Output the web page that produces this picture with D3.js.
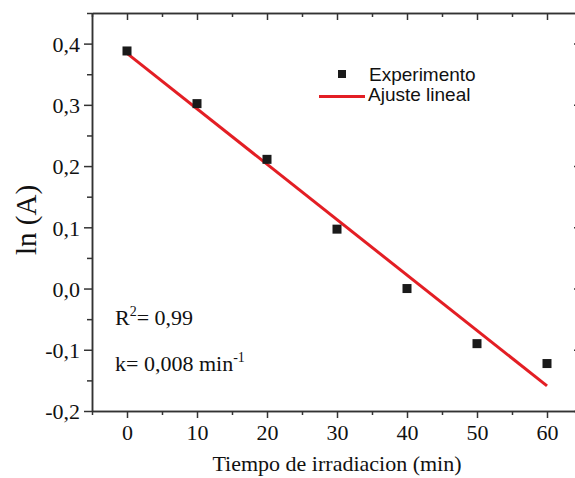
<!DOCTYPE html>
<html>
<head>
<meta charset="utf-8">
<script src="https://cdn.jsdelivr.net/npm/d3@7"></script>
<style>
  body { margin: 0; background: #fff; }
  svg { display: block; }
</style>
</head>
<body>
<div id="chart"></div>
<script>
// 측정 데이터 (min, ln A)
const times = [0, 10, 20, 30, 40, 50, 60];
const lnA = [0.388, 0.302, 0.211, 0.097, 0.0, -0.090, -0.1225];
// 선형 적합 양 끝점
const fitX = [0, 60];
const fitY = [0.384, -0.159];
const xTicks = [0, 10, 20, 30, 40, 50, 60];
const yTicks = [-0.2, -0.1, 0.0, 0.1, 0.2, 0.3, 0.4];

const W = 575, H = 478;
const margin = { top: 13, right: -7, bottom: 67, left: 92 };
const serif = '"Liberation Serif", "Times New Roman", Times, serif';
const sans = '"Liberation Sans", Arial, sans-serif';
const ink = '#111';

let svg = d3.select('#chart').append('svg')
  .attr('width', W)
  .attr('height', H);

let x = d3.scaleLinear().domain([-5, 65]).range([margin.left, W - margin.right]);
let y = d3.scaleLinear().domain([-0.2, 0.45]).range([H - margin.bottom, margin.top]);

const axisColor = '#333';
const fmt = d => d3.format('.1f')(d).replace('.', ',').replace('−', '-');
const xMinor = d3.range(-5, 66, 5).filter(v => v % 10 !== 0);
const yMinor = d3.range(-0.15, 0.46, 0.1).map(v => +v.toFixed(2));

/* 축 그리기 헬퍼 */
function drawAxis(axis, tx, ty) {
  let g = svg.append('g').attr('transform', 'translate(' + tx + ',' + ty + ')').call(axis);
  g.attr('font-family', serif).attr('font-size', 22);
  g.select('.domain').attr('stroke', axisColor).attr('stroke-width', 1.5);
  g.selectAll('.tick line').attr('stroke', axisColor).attr('stroke-width', 1.5);
  g.selectAll('.tick text').attr('fill', ink).attr('font-family', serif).attr('font-size', 22);
  return g;
}

// 아래 x축
drawAxis(d3.axisBottom(x).tickValues(xTicks).tickSize(7).tickPadding(6).tickSizeOuter(0).tickFormat(d3.format('d')), 0, y.range()[0]);
drawAxis(d3.axisBottom(x).tickValues(xMinor).tickSize(4).tickFormat('').tickSizeOuter(0), 0, y.range()[0]);
// 위 x축 (안쪽 눈금)
drawAxis(d3.axisBottom(x).tickValues(xTicks).tickSize(7).tickFormat('').tickSizeOuter(0), 0, y.range()[1]);
drawAxis(d3.axisBottom(x).tickValues(xMinor).tickSize(4).tickFormat('').tickSizeOuter(0), 0, y.range()[1]);

// 왼쪽 y축
let gy = drawAxis(d3.axisLeft(y).tickValues(yTicks).tickSize(8).tickPadding(4).tickSizeOuter(0).tickFormat(fmt), x.range()[0], 0);
drawAxis(d3.axisLeft(y).tickValues(yMinor).tickSize(5).tickFormat('').tickSizeOuter(0), x.range()[0], 0);
// 오른쪽 y축 (안쪽 눈금)
drawAxis(d3.axisRight(y).tickValues(yTicks).tickSize(-8).tickFormat('').tickSizeOuter(0), x.range()[1], 0);
drawAxis(d3.axisRight(y).tickValues(yMinor).tickSize(-5).tickFormat('').tickSizeOuter(0), x.range()[1], 0);

gy.selectAll('.tick text').attr('dy', '0.35em');

// 적합 직선
let line = d3.line().x(d => x(d[0])).y(d => y(d[1]));
svg.append('path')
  .datum(d3.zip(fitX, fitY))
  .attr('d', line)
  .attr('fill', 'none')
  .attr('stroke', '#e31e24')
  .attr('stroke-width', 3);

// 실험점
const sq = 9;
svg.selectAll('rect.pt')
  .data(d3.zip(times, lnA))
  .enter().append('rect')
  .attr('class', 'pt')
  .attr('x', d => x(d[0]) - sq / 2)
  .attr('y', d => y(d[1]) - sq / 2)
  .attr('width', sq)
  .attr('height', sq)
  .attr('fill', '#1a1a1a');

// 범례
svg.append('rect').attr('x', 338).attr('y', 70).attr('width', 8).attr('height', 8).attr('fill', '#1a1a1a');
svg.append('text').attr('x', 369).attr('y', 81).text('Experimento')
  .attr('font-family', sans).attr('font-size', 19).attr('fill', ink);
svg.append('line').attr('x1', 319).attr('x2', 365).attr('y1', 96.5).attr('y2', 96.5)
  .attr('stroke', '#e31e24').attr('stroke-width', 3);
svg.append('text').attr('x', 368).attr('y', 101).text('Ajuste lineal')
  .attr('font-family', sans).attr('font-size', 19).attr('fill', ink);

// 주석
let t1 = svg.append('text').attr('x', 115).attr('y', 325)
  .attr('font-family', serif).attr('font-size', 22).attr('fill', ink);
t1.append('tspan').text('R');
t1.append('tspan').text('2').attr('font-size', 14).attr('dy', -9);
t1.append('tspan').text('= 0,99').attr('dy', 9);

let t2 = svg.append('text').attr('x', 115).attr('y', 371)
  .attr('font-family', serif).attr('font-size', 22).attr('fill', ink);
t2.append('tspan').text('k= 0,008 min');
t2.append('tspan').text('-1').attr('font-size', 14).attr('dy', -9);

// 축 제목
svg.append('text')
  .attr('x', 337).attr('y', 471)
  .attr('text-anchor', 'middle')
  .attr('font-family', serif).attr('font-size', 22).attr('fill', ink)
  .text('Tiempo de irradiacion (min)');

svg.append('text')
  .attr('transform', 'translate(36,220) rotate(-90)')
  .attr('text-anchor', 'middle')
  .attr('font-family', serif).attr('font-size', 29).attr('fill', ink)
  .text('ln (A)');
</script>
</body>
</html>
